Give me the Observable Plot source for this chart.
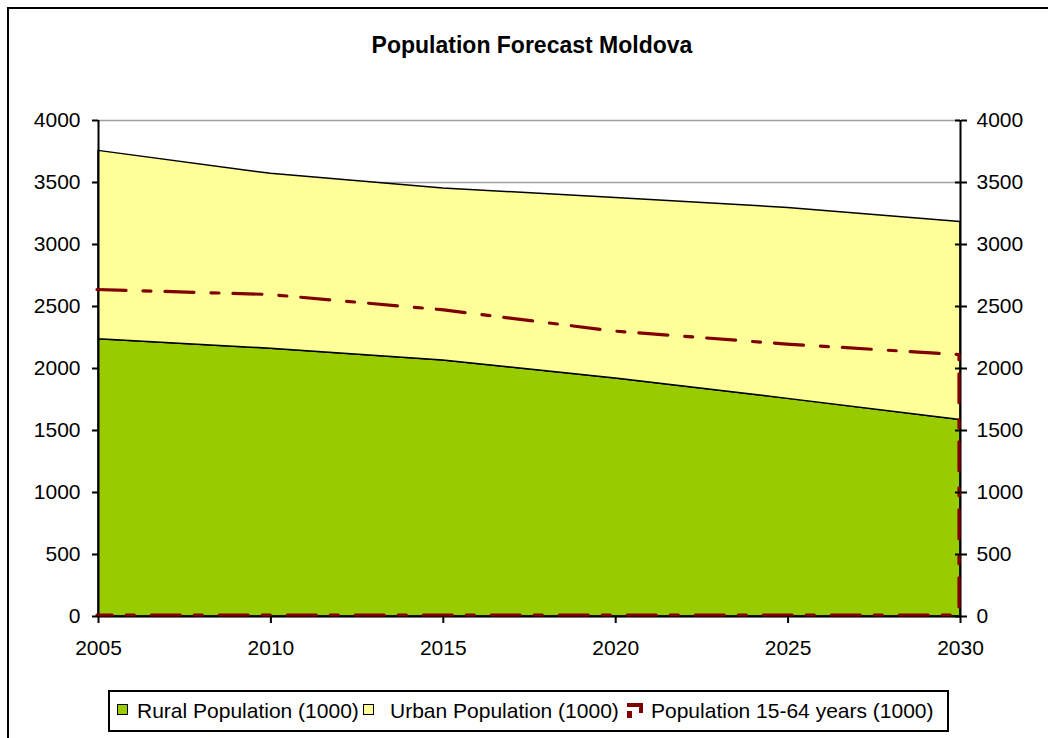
<!DOCTYPE html>
<html>
<head>
<meta charset="utf-8">
<script src="https://cdn.jsdelivr.net/npm/d3@7"></script>
<script src="https://cdn.jsdelivr.net/npm/@observablehq/plot@0.6"></script>
<style>
  html, body { margin: 0; padding: 0; background: #fff; overflow: hidden; width: 1048px; height: 738px; }
  body { position: relative; font-family: "Liberation Sans", Arial, sans-serif; color: #000; }
  #frame { position: absolute; left: 7px; top: 7px; width: 1100px; height: 800px; border: 2px solid #000; box-sizing: border-box; }
  #title { position: absolute; left: 0; width: 1064px; top: 34px; text-align: center; font-size: 23px; font-weight: bold; line-height: 23px; }
  #chart { position: absolute; left: 0; top: 0; }
  #legend { position: absolute; left: 108px; top: 690px; width: 841px; height: 42px; border: 2px solid #000; box-sizing: border-box; background: #fff; }
  .li { position: absolute; top: 0; height: 38px; line-height: 38px; font-size: 21px; white-space: nowrap; }
  .sw { position: absolute; width: 11px; height: 11px; border: 1.5px solid #000; box-sizing: border-box; }
</style>
</head>
<body>
<div id="frame"></div>
<div id="title">Population Forecast Moldova</div>
<div id="chart"></div>
<div id="legend"></div>
<script>
// ---- data ----
const years = [2005, 2010, 2015, 2020, 2025, 2030];
const rural = [2235, 2160, 2065, 1920, 1755, 1585];
const urban = [1520, 1410, 1387, 1455, 1540, 1597];
const working = [2625, 2585, 2462, 2290, 2185, 2100];
const seriesNames = ["Rural Population (1000)", "Urban Population (1000)", "Population 15-64 years (1000)"];
const seriesColors = ["#99CC00", "#FFFF99", "#800000"];
const yTicks = [0, 500, 1000, 1500, 2000, 2500, 3000, 3500, 4000];
const xTicks = [2005, 2010, 2015, 2020, 2025, 2030];

const stacked = years.flatMap((year, i) => [
  {year, series: seriesNames[0], value: rural[i]},
  {year, series: seriesNames[1], value: urban[i]}
]);
// Outline of the unfilled 15-64 area (Excel style): top edge, right edge, baseline.
const workOutline = years.map((year, i) => ({year, value: working[i]}))
  .concat([{year: years[years.length - 1], value: 0}, {year: years[0], value: 0}]);

const plot = Plot.plot({
  width: 1048,
  height: 680,
  marginLeft: 98,
  marginRight: 88,
  marginTop: 120,
  marginBottom: 64,
  style: {fontFamily: "'Liberation Sans', Arial, sans-serif", fontSize: "21px", background: "transparent", color: "#000", overflow: "visible"},
  x: {type: "linear", domain: [2005, 2030]},
  y: {domain: [0, 4000]},
  color: {domain: seriesNames.slice(0, 2), range: seriesColors.slice(0, 2)},
  marks: [
    Plot.gridY({ticks: yTicks, stroke: "#a0a0a0", strokeOpacity: 1, strokeWidth: 1.5}),
    Plot.areaY(stacked, {x: "year", y: "value", fill: "series", z: "series", order: seriesNames.slice(0, 2), stroke: "#000", strokeWidth: 1.5, curve: "linear"}),
    Plot.ruleX([2005], {stroke: "#000", strokeWidth: 2}),
    Plot.ruleX([2030], {stroke: "#000", strokeWidth: 2}),
    Plot.ruleY([0], {stroke: "#000", strokeWidth: 2}),
    Plot.line(workOutline, {x: "year", y: "value", dx: -1.5, dy: -1.5, stroke: seriesColors[2], strokeWidth: 3.2, strokeDasharray: "29 17 8 14", curve: "linear"}),
    Plot.ruleY(yTicks, {y: d => d, x1: () => 2030, x2: () => 2030, insetLeft: -5, stroke: "#000", strokeWidth: 2}),
    Plot.axisY({anchor: "left", ticks: yTicks, tickSize: 6, tickPadding: 12, strokeWidth: 2, label: null, tickFormat: "d"}),
    Plot.axisY({anchor: "right", ticks: yTicks, tickSize: 6, tickPadding: 10, strokeWidth: 2, label: null, tickFormat: "d"}),
    Plot.axisX({anchor: "bottom", ticks: xTicks, tickSize: 7, tickPadding: 17, strokeWidth: 2, label: null, tickFormat: "d"})
  ]
});
document.getElementById("chart").appendChild(plot);

// ---- legend ----
const legend = document.getElementById("legend");
const lx = 108 + 2, ly = 690 + 2; // inner origin
function addText(txt, x) {
  const d = document.createElement("div");
  d.className = "li";
  d.style.left = (x - lx) + "px";
  d.textContent = txt;
  legend.appendChild(d);
}
function addSwatch(color, x) {
  const s = document.createElement("div");
  s.className = "sw";
  s.style.left = (x - lx) + "px";
  s.style.top = (704 - ly) + "px";
  s.style.background = color;
  legend.appendChild(s);
}
addSwatch(seriesColors[0], 117);
addText(seriesNames[0], 137);
addSwatch(seriesColors[1], 363);
addText(seriesNames[1], 390);
const ns = "http://www.w3.org/2000/svg";
const sym = document.createElementNS(ns, "svg");
sym.setAttribute("width", 18);
sym.setAttribute("height", 16);
sym.style.position = "absolute";
sym.style.left = (627 - lx) + "px";
sym.style.top = (703 - ly) + "px";
[[0, 0, 16, 4], [12, 0, 4, 10], [0, 8, 5, 7]].forEach(([x, y, w, h]) => {
  const r = document.createElementNS(ns, "rect");
  r.setAttribute("x", x); r.setAttribute("y", y);
  r.setAttribute("width", w); r.setAttribute("height", h);
  r.setAttribute("fill", seriesColors[2]);
  sym.appendChild(r);
});
legend.appendChild(sym);
addText(seriesNames[2], 651);
</script>
</body>
</html>
